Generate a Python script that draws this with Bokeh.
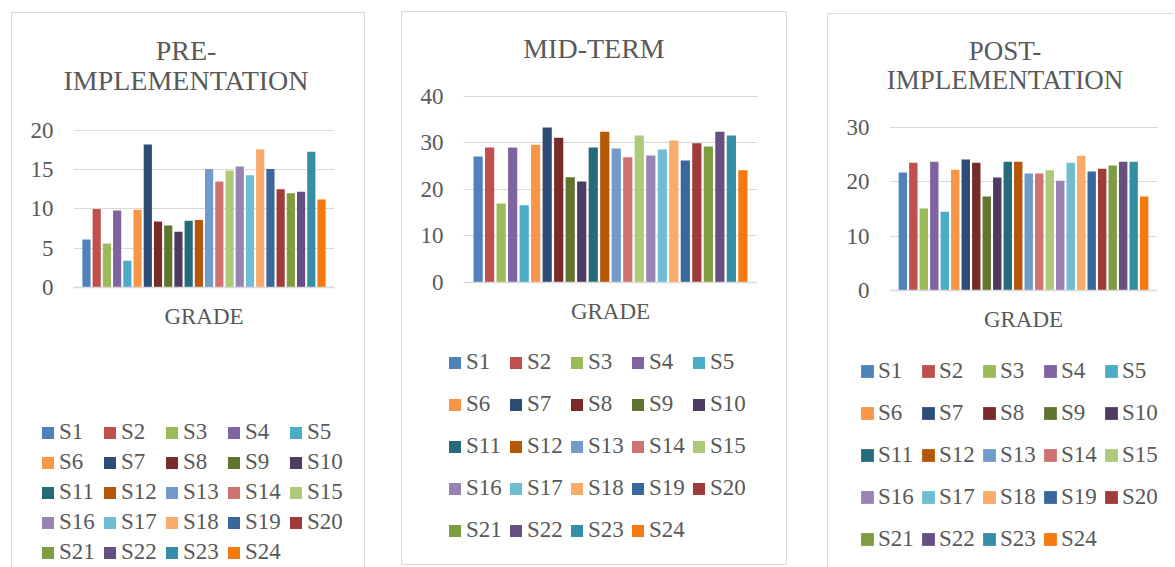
from bokeh.plotting import figure
from bokeh.models import (ColumnDataSource, Range1d, SingleIntervalTicker, FixedTicker,
                          Legend, LegendItem, Div)
from bokeh.embed import file_html
from bokeh.resources import INLINE

# ---------------- data ----------------
series = ["S1", "S2", "S3", "S4", "S5", "S6", "S7", "S8", "S9", "S10", "S11", "S12",
          "S13", "S14", "S15", "S16", "S17", "S18", "S19", "S20", "S21", "S22", "S23", "S24"]
colors = ["#4F81BD", "#C0504D", "#9BBB59", "#8064A2", "#4BACC6", "#F79646",
          "#2C4D75", "#772C2A", "#5F7530", "#4D3B62", "#276A7C", "#B65708",
          "#729ACA", "#CD7371", "#AFC97A", "#9983B5", "#6FBDD1", "#F9AB6B",
          "#3A679C", "#9F3B38", "#7E9D40", "#664F83", "#358EA6", "#F47A0F"]
pre_grades = [6.1, 10.0, 5.6, 9.8, 3.4, 9.9, 18.2, 8.4, 7.9, 7.1, 8.5, 8.6,
              15.1, 13.5, 14.9, 15.4, 14.3, 17.6, 15.1, 12.5, 12.0, 12.2, 17.3, 11.2]
mid_grades = [27.1, 29.0, 17.0, 29.0, 16.6, 29.6, 33.3, 31.1, 22.6, 21.7, 29.0, 32.4,
              28.8, 26.9, 31.6, 27.3, 28.6, 30.5, 26.2, 29.9, 29.2, 32.4, 31.6, 24.1]
post_grades = [21.7, 23.5, 15.1, 23.7, 14.5, 22.2, 24.1, 23.5, 17.3, 20.8, 23.7, 23.7,
               21.5, 21.5, 22.1, 20.2, 23.5, 24.8, 21.9, 22.4, 23.0, 23.7, 23.7, 17.3]
category = "GRADE"
titles = ["PRE-<br>IMPLEMENTATION", "MID-TERM", "POST-<br>IMPLEMENTATION"]
y_max = [20, 40, 30]
y_step = [5, 10, 10]

FONT = "Liberation Serif"
TXT = "#595959"
GRID = "#d9d9d9"
BORDER = "1px solid #d9d9d9"

# ---------------- layout config ----------------
configs = [
    dict(box=(11, 12, 354, 555), sides=("top", "left", "right"), pad="23px 4px 0 0", tfs="28px",
         fig=(12, 100, 352, 466), mbl=61, mbr=30, mbt=28, mbb=279, yend=20.25,
         legbox=(40, 419, 318, 147), gw=15, ls=4, sp=4, lh=26, lw=39, gstand=16),
    dict(box=(401, 11, 386, 554), sides=("top", "left", "right", "bottom"), pad="22px 0 0 0",
         tfs="28px",
         fig=(402, 80, 384, 484), mbl=61, mbr=29, mbt=14, mbb=282, yend=40.4,
         leg=None, legbox=(447, 343, 318, 218), gw=15, ls=4, sp=4, lh=38, lw=38, gstand=16),
    dict(box=(827, 13, 347, 554), sides=("top", "left"), pad="22.5px 0 0 8px", tfs="27px",
         fig=(828, 100, 346, 466), mbl=61, mbr=17, mbt=25, mbb=276, yend=30.35,
         legbox=(859, 352, 314, 214), gw=16, ls=3, sp=4, lh=38, lw=38, gstand=16),
]

positions = list(range(len(series)))


def abs_style(x, y):
    return {"position": "absolute", "left": f"{x}px", "top": f"{y}px"}


def make_box(title_html, c):
    x, y, w, h = c["box"]
    st = abs_style(x, y)
    st.update({"box-sizing": "border-box", "padding": c["pad"], "text-align": "center",
               "font-family": FONT, "font-size": c["tfs"], "line-height": "29.5px",
               "color": TXT, "font-weight": "normal"})
    for s in c["sides"]:
        st[f"border-{s}"] = BORDER
    return Div(text=title_html, width=w, height=h, margin=0, styles=st)


def make_panel(values, ystep, c):
    fx, fy, fw, fh = c["fig"]
    src = ColumnDataSource(dict(x=positions, top=values, color=colors, name=series))

    p = figure(width=fw, height=fh, output_backend="svg", toolbar_location=None,
               x_range=Range1d(-1.27, len(series) - 1 + 1.27), y_range=Range1d(0, c["yend"]),
               min_border_left=c["mbl"], min_border_right=c["mbr"],
               min_border_top=c["mbt"], min_border_bottom=c["mbb"],
               border_fill_color=None, background_fill_color=None,
               outline_line_color=None, tools="", margin=0, styles=abs_style(fx, fy))
    p.vbar(x="x", top="top", width=0.8, fill_color="color", line_color=None, source=src)

    p.xgrid.grid_line_color = None
    p.ygrid.grid_line_color = GRID
    p.ygrid.grid_line_width = 1
    p.yaxis.ticker = SingleIntervalTicker(interval=ystep, num_minor_ticks=0)
    p.ygrid.ticker = SingleIntervalTicker(interval=ystep, num_minor_ticks=0)
    p.yaxis.axis_line_color = None
    p.yaxis.major_tick_line_color = None
    p.yaxis.minor_tick_line_color = None
    p.yaxis.major_tick_out = 0
    p.yaxis.major_label_standoff = 20
    p.yaxis.major_label_text_font = FONT
    p.yaxis.major_label_text_font_size = "23px"
    p.yaxis.major_label_text_color = TXT

    mid = (len(series) - 1) / 2
    p.xaxis.ticker = FixedTicker(ticks=[mid])
    p.xaxis.major_label_overrides = {mid: category}
    p.xaxis.axis_line_color = GRID
    p.xaxis.axis_line_width = 1.3
    p.xaxis.major_tick_line_color = None
    p.xaxis.minor_tick_line_color = None
    p.xaxis.major_tick_out = 0
    p.xaxis.major_label_standoff = c["gstand"]
    p.xaxis.major_label_text_font = FONT
    p.xaxis.major_label_text_font_size = "23px"
    p.xaxis.major_label_text_color = TXT

    # legend lives in its own small canvas below the chart (same data, out-of-view glyphs)
    lx, ly, lwid, lhei = c["legbox"]
    q = figure(width=lwid, height=lhei, output_backend="svg", toolbar_location=None,
               x_axis_location=None, y_axis_location=None, min_border=0,
               x_range=Range1d(-100, -99), y_range=Range1d(0, 1),
               border_fill_color=None, background_fill_color=None,
               outline_line_color=None, tools="", margin=0, styles=abs_style(lx, ly))
    q.xgrid.visible = False
    q.ygrid.visible = False
    rl = q.vbar(x="x", top="top", width=0.8, fill_color="color", line_color=None, source=src)
    items = [LegendItem(label=series[i], renderers=[rl], index=i) for i in range(len(series))]
    leg = Legend(items=items, location="top_left", orientation="horizontal", ncols=5,
                 glyph_width=c["gw"], glyph_height=c["gw"], label_standoff=c["ls"],
                 spacing=c["sp"], label_height=c["lh"], label_width=c["lw"],
                 padding=0, margin=0, border_line_color=None, background_fill_alpha=0,
                 label_text_font=FONT, label_text_font_size="23px", label_text_color=TXT)
    q.add_layout(leg)
    return [p, q]


boxes = [make_box(t, c) for t, c in zip(titles, configs)]
figs = []
for v, s, c in zip([pre_grades, mid_grades, post_grades], y_step, configs):
    figs += make_panel(v, s, c)

open("out.html", "w").write(file_html(boxes + figs, INLINE, "Grades"))
